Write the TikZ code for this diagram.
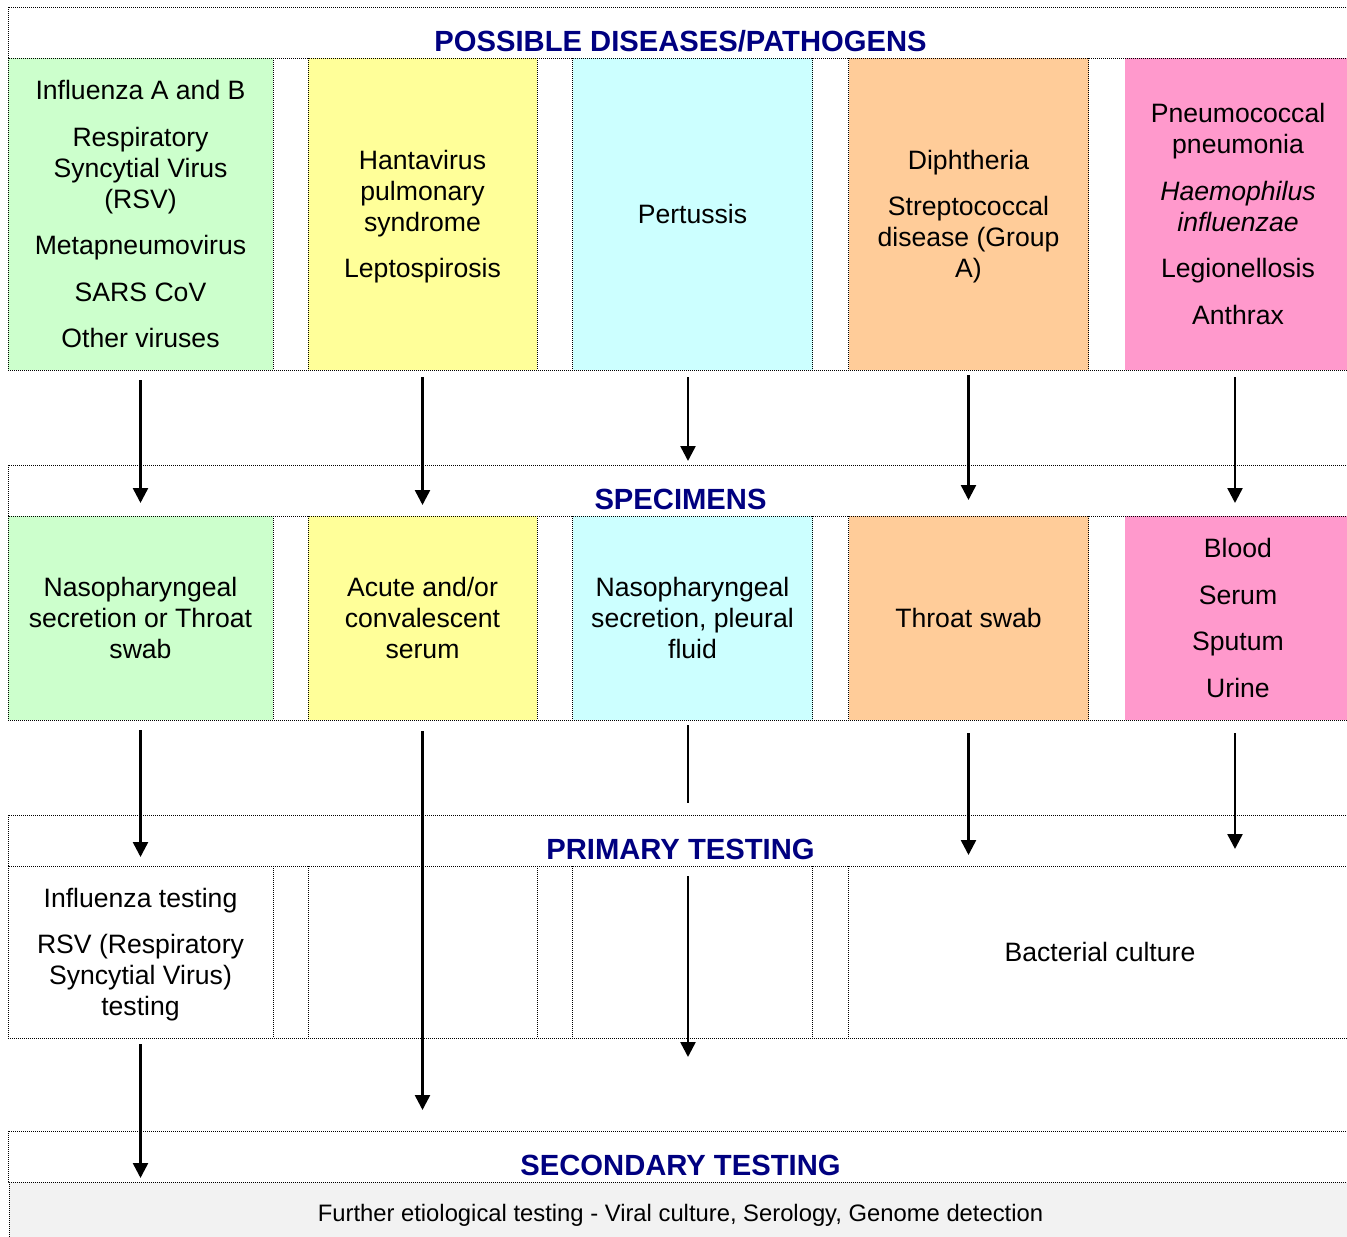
\documentclass[tikz,border=0pt]{standalone}
\usepackage{fontspec}
\setmainfont{Liberation Sans}
\usetikzlibrary{arrows.meta}
\definecolor{cgreen}{RGB}{204,255,204}
\definecolor{cyellow}{RGB}{255,255,153}
\definecolor{ccyan}{RGB}{204,255,255}
\definecolor{corange}{RGB}{255,204,153}
\definecolor{cpink}{RGB}{255,153,204}
\definecolor{navy}{RGB}{0,0,128}
\definecolor{panel}{RGB}{242,242,242}

\begin{document}
\begin{tikzpicture}[x=1pt,y=-1pt,
  grid/.style={draw=black, line width=1pt, dash pattern=on 1pt off 1pt},
  cell/.style={rectangle, inner sep=0pt, outer sep=0pt, align=center,
    text depth=0pt, font=\fontsize{26.6}{31}\selectfont},
  gapcell/.style={rectangle, inner sep=0pt, outer sep=0pt, fill=white},
  hdr/.style={rectangle, inner sep=0pt, outer sep=0pt, fill=white,
    minimum width=1343, minimum height=51},
  title/.style={font=\fontsize{29.2}{34}\selectfont\bfseries, text=navy,
    inner sep=0pt, anchor=base},
  arr/.style={line width=2.5pt, -{Triangle[width=15pt,length=15pt]}},
  bar/.style={line width=2.5pt}
]
\useasboundingbox (0,0) rectangle (1347,1237);
\clip (0,0) rectangle (1347,1237);
\fill[white] (0,0) rectangle (1347,1237);

% ---------- possible diseases / pathogens ----------
\node[hdr] (h1) at (679.5,32.5) {};

\node[cell, fill=cgreen, minimum width=265, minimum height=312] (d1) at (140.5,214)
  {Influenza A and B\\[15.5pt]Respiratory\\Syncytial Virus\\(RSV)\\[15.5pt]Metapneumovirus\\[15.5pt]SARS CoV\\[15.5pt]Other viruses};
\node[gapcell, minimum width=35, minimum height=312] (g11) at (290.5,214) {};
\node[cell, fill=cyellow, minimum width=229, minimum height=312] (d2) at (422.5,214)
  {Hantavirus\\pulmonary\\syndrome\\[15.5pt]Leptospirosis};
\node[gapcell, minimum width=35.5, minimum height=312] (g12) at (554.75,214) {};
\node[cell, fill=ccyan, minimum width=240, minimum height=312] (d3) at (692.5,214)
  {Pertussis};
\node[gapcell, minimum width=36, minimum height=312] (g13) at (830.5,214) {};
\node[cell, fill=corange, minimum width=240, minimum height=312] (d4) at (968.5,214)
  {Diphtheria\\[15.5pt]Streptococcal\\disease (Group\\A)};
\node[gapcell, minimum width=36, minimum height=312] (g14) at (1106.5,214) {};
\node[cell, fill=cpink, minimum width=227, minimum height=312] (d5) at (1238,214)
  {Pneumococcal\\pneumonia\\[15.5pt]\textit{Haemophilus}\\\textit{influenzae}\\[15.5pt]Legionellosis\\[15.5pt]Anthrax};

% ---------- specimens ----------
\node[hdr] (h2) at (679.5,490.5) {};

\node[cell, fill=cgreen, minimum width=265, minimum height=204] (s1) at (140.5,618)
  {Nasopharyngeal\\secretion or Throat\\swab};
\node[gapcell, minimum width=35, minimum height=204] (g21) at (290.5,618) {};
\node[cell, fill=cyellow, minimum width=229, minimum height=204] (s2) at (422.5,618)
  {Acute and/or\\convalescent\\serum};
\node[gapcell, minimum width=35.5, minimum height=204] (g22) at (554.75,618) {};
\node[cell, fill=ccyan, minimum width=240, minimum height=204] (s3) at (692.5,618)
  {Nasopharyngeal\\secretion, pleural\\fluid};
\node[gapcell, minimum width=36, minimum height=204] (g23) at (830.5,618) {};
\node[cell, fill=corange, minimum width=240, minimum height=204] (s4) at (968.5,618)
  {Throat swab};
\node[gapcell, minimum width=36, minimum height=204] (g24) at (1106.5,618) {};
\node[cell, fill=cpink, minimum width=227, minimum height=204] (s5) at (1238,618)
  {Blood\\[15.5pt]Serum\\[15.5pt]Sputum\\[15.5pt]Urine};

% ---------- primary testing ----------
\node[hdr] (h3) at (679.5,840.5) {};

\node[cell, fill=white, minimum width=265, minimum height=172] (p1) at (140.5,952)
  {Influenza testing\\[15.5pt]RSV (Respiratory\\Syncytial Virus)\\testing};
\node[gapcell, minimum width=35, minimum height=172] (g31) at (290.5,952) {};
\node[cell, fill=white, minimum width=229, minimum height=172] (p2) at (422.5,952) {};
\node[gapcell, minimum width=35.5, minimum height=172] (g32) at (554.75,952) {};
\node[cell, fill=white, minimum width=240, minimum height=172] (p3) at (692.5,952) {};
\node[gapcell, minimum width=36, minimum height=172] (g33) at (830.5,952) {};
\node[cell, fill=white, minimum width=503, minimum height=172] (p4) at (1100,952)
  {Bacterial culture};

% ---------- secondary testing ----------
\node[hdr] (h4) at (679.5,1156.5) {};

\node[rectangle, inner sep=0pt, outer sep=0pt, fill=panel,
  minimum width=1343, minimum height=62, text depth=0pt,
  font=\fontsize{23.8}{28}\selectfont] (f) at (680.5,1213)
  {Further etiological testing - Viral culture, Serology, Genome detection};

% ---------- dotted rules: each line drawn once ----------
\foreach \h in {h1,h2,h3,h4}
  \draw[grid] (\h.north west) rectangle (\h.south east);
\foreach \first/\last in {d1/d5, s1/s5, p1/p4}
  \draw[grid] (\first.north west) -- (\first.south west) -- (\last.south east);
\foreach \n in {d1,g11,d2,g12,d3,g13,d4,
                s1,g21,s2,g22,s3,g23,s4,
                p1,g31,p2,g32,p3,g33}
  \draw[grid] (\n.north east) -- (\n.south east);
\draw[grid] (f.north west) -- (f.south west);

% ---------- row titles ----------
\node[title] (t1) at ([xshift=1pt,yshift=7pt]h1.south) {POSSIBLE DISEASES/PATHOGENS};
\node[title] (t2) at ([xshift=1pt,yshift=7pt]h2.south) {SPECIMENS};
\node[title] (t3) at ([xshift=1pt,yshift=7pt]h3.south) {PRIMARY TESTING};
\node[title] (t4) at ([xshift=1pt,yshift=7pt]h4.south) {SECONDARY TESTING};

% ---------- flow arrows ----------
\draw[arr] ([yshift=-10pt]d1.south) -- ([yshift=13pt]s1.north);
\draw[arr] ([yshift=-7pt]d2.south) -- ([yshift=11pt]s2.north);
\draw[arr] ([xshift=-4.5pt,yshift=-7pt]d3.south) -- ([xshift=-4.5pt,yshift=55pt]s3.north);
\draw[arr] ([yshift=-5pt]d4.south) -- ([yshift=16pt]s4.north);
\draw[arr] ([xshift=-3pt,yshift=-7pt]d5.south) -- ([xshift=-3pt,yshift=13pt]s5.north);

\draw[arr] ([yshift=-10pt]s1.south) -- ([yshift=9pt]p1.north);
\draw[arr] ([yshift=-11pt]s2.south) -- ([yshift=-72pt]p2.south);
\draw[bar] ([xshift=-4.5pt,yshift=-5pt]s3.south) -- ([xshift=-4.5pt,yshift=63pt]p3.north);
\draw[arr] ([yshift=-13pt]s4.south) -- ([yshift=11pt]s4.south |- p4.north);
\draw[arr] ([xshift=-3pt,yshift=-13pt]s5.south) -- ([xshift=-3pt,yshift=17pt]s5.south |- p4.north);

\draw[arr] ([yshift=-6pt]p1.south) -- ([yshift=4pt]p1.south |- f.north);
\draw[arr] ([xshift=-4.5pt,yshift=-10pt]p3.north) -- ([xshift=-4.5pt,yshift=-19pt]p3.south);
\end{tikzpicture}
\end{document}
